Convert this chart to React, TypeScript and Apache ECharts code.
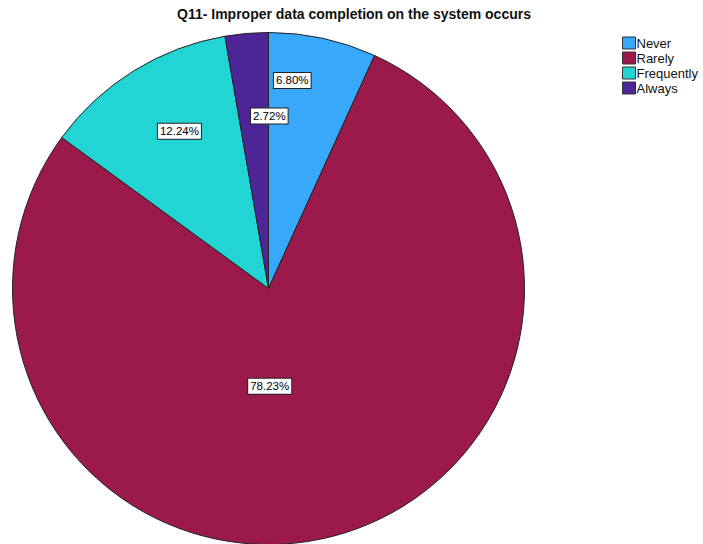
import React, { useEffect, useRef } from "react";
import * as echarts from "echarts";

const TITLE = "Q11- Improper data completion on the system occurs";
const categories = ["Never", "Rarely", "Frequently", "Always"];
const percents = [6.8, 78.23, 12.24, 2.72];
const colors = ["#38a8fc", "#9c1a4b", "#22d4d3", "#4e2596"];
// label nudges from the default "inside" spot (pixels)
const labelNudgeX = [-4, -32, -20, 12];
const labelNudgeY = [-80, -29, -46, -42];

export default function App() {
  const ref = useRef<HTMLDivElement>(null);
  useEffect(() => {
    if (!ref.current) return;
    const chart = echarts.init(ref.current, undefined, { renderer: "svg" });
    chart.setOption({
      animation: false,
      backgroundColor: "#ffffff",
      title: {
        text: TITLE,
        left: 172,
        top: 2,
        textStyle: {
          fontFamily: "Liberation Sans, Arial, sans-serif",
          fontSize: 14,
          fontWeight: "bold",
          color: "#111",
        },
      },
      legend: {
        orient: "vertical",
        left: 617,
        top: 31,
        icon: "rect",
        itemWidth: 13,
        itemHeight: 12,
        itemGap: 1,
        data: categories,
        textStyle: {
          fontFamily: "Liberation Sans, Arial, sans-serif",
          fontSize: 13,
          lineHeight: 14,
          color: "#111",
          padding: [0, 0, 0, -4],
        },
        itemStyle: { borderColor: "#333", borderWidth: 1 },
      },
      series: [
        {
          type: "pie",
          center: [268.5, 288.5],
          radius: 256,
          startAngle: 90,
          clockwise: true,
          data: categories.map((c, i) => ({
            name: c,
            value: percents[i],
            itemStyle: { color: colors[i] },
          })),
          itemStyle: { borderColor: "#222", borderWidth: 1 },
          label: {
            show: true,
            position: "inside",
            formatter: (p: any) => p.value.toFixed(2) + "%",
            fontFamily: "Liberation Sans, Arial, sans-serif",
            fontSize: 11.5,
            color: "#000",
            backgroundColor: "#fff",
            borderColor: "#222",
            borderWidth: 1,
            padding: [2, 2, 1, 2],
          },
          labelLine: { show: false },
          labelLayout: (params: any) => ({
            dx: labelNudgeX[params.dataIndex],
            dy: labelNudgeY[params.dataIndex],
          }),
          emphasis: { disabled: true },
        },
      ],
    });
    return () => chart.dispose();
  }, []);
  return <div ref={ref} style={{ width: 703, height: 544, position: "absolute", left: 0, top: 0 }} />;
}
